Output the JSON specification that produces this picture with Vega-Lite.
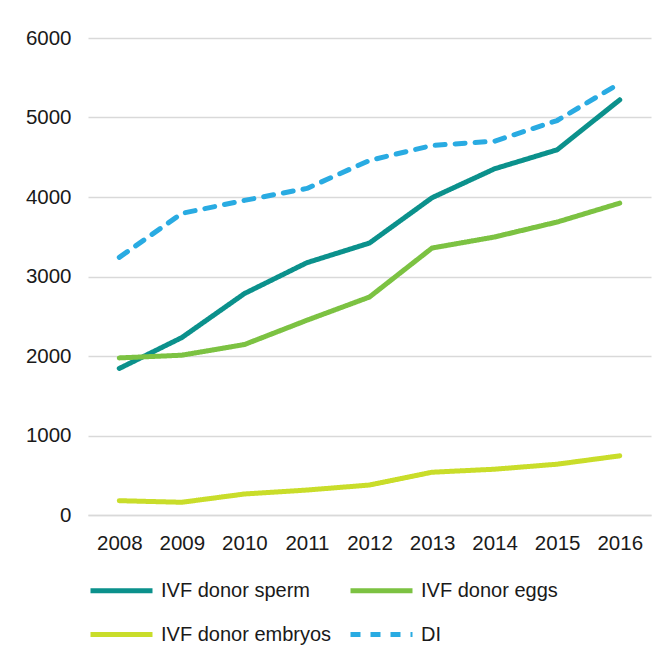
{
  "$schema": "https://vega.github.io/schema/vega-lite/v6.json",
  "width": 563,
  "height": 477,
  "autosize": {"type": "none"},
  "padding": {"left": 88, "top": 38, "right": 18, "bottom": 135},
  "background": "white",
  "config": {
    "font": "Liberation Sans",
    "view": {"stroke": null},
    "axis": {"labelFont": "Liberation Sans", "labelFontSize": 20.5, "labelColor": "#1a1a1a", "ticks": false, "title": null}
  },
  "data": {
    "values": [
      {"year": "2008", "series": "IVF donor sperm", "value": 1843},
      {"year": "2009", "series": "IVF donor sperm", "value": 2232},
      {"year": "2010", "series": "IVF donor sperm", "value": 2785},
      {"year": "2011", "series": "IVF donor sperm", "value": 3174},
      {"year": "2012", "series": "IVF donor sperm", "value": 3421},
      {"year": "2013", "series": "IVF donor sperm", "value": 3991},
      {"year": "2014", "series": "IVF donor sperm", "value": 4355},
      {"year": "2015", "series": "IVF donor sperm", "value": 4594},
      {"year": "2016", "series": "IVF donor sperm", "value": 5222},
      {"year": "2008", "series": "IVF donor eggs", "value": 1976},
      {"year": "2009", "series": "IVF donor eggs", "value": 2010},
      {"year": "2010", "series": "IVF donor eggs", "value": 2144},
      {"year": "2011", "series": "IVF donor eggs", "value": 2450},
      {"year": "2012", "series": "IVF donor eggs", "value": 2742},
      {"year": "2013", "series": "IVF donor eggs", "value": 3358},
      {"year": "2014", "series": "IVF donor eggs", "value": 3497},
      {"year": "2015", "series": "IVF donor eggs", "value": 3685},
      {"year": "2016", "series": "IVF donor eggs", "value": 3923},
      {"year": "2008", "series": "IVF donor embryos", "value": 180},
      {"year": "2009", "series": "IVF donor embryos", "value": 160},
      {"year": "2010", "series": "IVF donor embryos", "value": 264},
      {"year": "2011", "series": "IVF donor embryos", "value": 314},
      {"year": "2012", "series": "IVF donor embryos", "value": 377},
      {"year": "2013", "series": "IVF donor embryos", "value": 538},
      {"year": "2014", "series": "IVF donor embryos", "value": 576},
      {"year": "2015", "series": "IVF donor embryos", "value": 639},
      {"year": "2016", "series": "IVF donor embryos", "value": 744},
      {"year": "2008", "series": "DI", "value": 3241},
      {"year": "2009", "series": "DI", "value": 3794},
      {"year": "2010", "series": "DI", "value": 3957},
      {"year": "2011", "series": "DI", "value": 4108},
      {"year": "2012", "series": "DI", "value": 4460},
      {"year": "2013", "series": "DI", "value": 4648},
      {"year": "2014", "series": "DI", "value": 4702},
      {"year": "2015", "series": "DI", "value": 4962},
      {"year": "2016", "series": "DI", "value": 5430}
    ]
  },
  "mark": {"type": "line", "strokeWidth": 5, "strokeCap": "round", "strokeJoin": "round"},
  "encoding": {
    "x": {
      "field": "year", "type": "ordinal",
      "scale": {"type": "point", "padding": 0.5},
      "axis": {"labelAngle": 0, "labelPadding": 18, "domain": true, "domainColor": "#d9d9d9", "domainWidth": 1.5, "grid": false}
    },
    "y": {
      "field": "value", "type": "quantitative",
      "scale": {"domain": [0, 6000], "nice": false},
      "axis": {"values": [0, 1000, 2000, 3000, 4000, 5000, 6000], "format": "d", "domain": false, "grid": true, "gridColor": "#d9d9d9", "gridWidth": 1.5, "labelPadding": 17}
    },
    "color": {
      "field": "series", "type": "nominal",
      "scale": {
        "domain": ["IVF donor sperm", "IVF donor eggs", "IVF donor embryos", "DI"],
        "range": ["#0b918c", "#7cc242", "#c9dd2a", "#29abe2"]
      },
      "legend": {
        "title": null, "orient": "none", "legendX": 0, "legendY": 519, "direction": "horizontal", "columns": 2,
        "symbolType": "stroke", "symbolSize": 3844, "symbolStrokeWidth": 5,
        "labelFontSize": 20, "labelFont": "Liberation Sans", "labelColor": "#1a1a1a", "labelOffset": 6,
        "columnPadding": 8, "rowPadding": -27, "labelLimit": 300
      }
    },
    "strokeDash": {
      "field": "series", "type": "nominal",
      "scale": {
        "domain": ["IVF donor sperm", "IVF donor eggs", "IVF donor embryos", "DI"],
        "range": [[1, 0], [1, 0], [1, 0], [10, 10]]
      },
      "legend": {
        "title": null, "orient": "none", "legendX": 0, "legendY": 519, "direction": "horizontal", "columns": 2,
        "symbolType": "stroke", "symbolSize": 3844, "symbolStrokeWidth": 5,
        "labelFontSize": 20, "labelFont": "Liberation Sans", "labelColor": "#1a1a1a", "labelOffset": 6,
        "columnPadding": 8, "rowPadding": -27, "labelLimit": 300
      }
    }
  }
}
